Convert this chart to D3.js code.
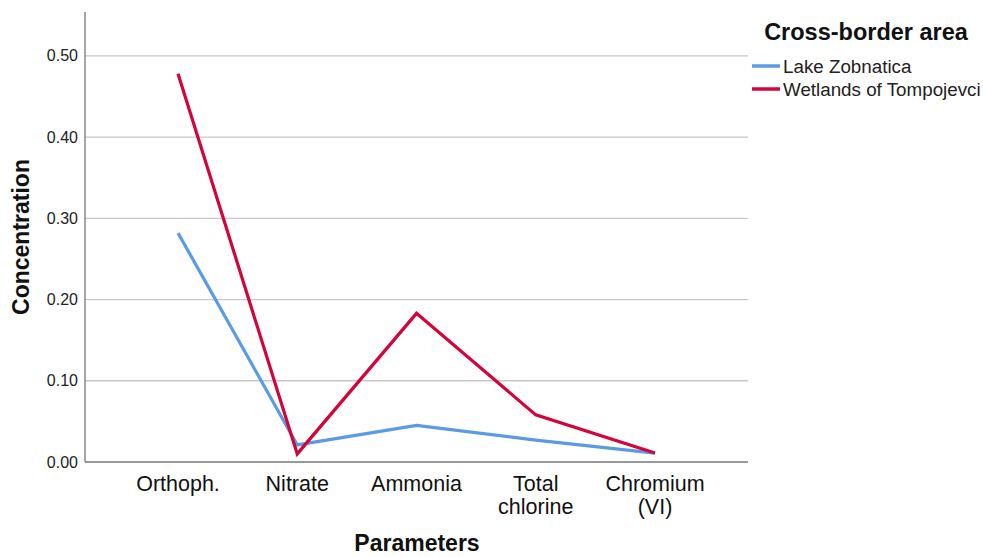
<!DOCTYPE html>
<html><head><meta charset="utf-8">
<script src="https://cdn.jsdelivr.net/npm/d3@7"></script>
<style>body{margin:0;background:#fff;font-family:"Liberation Sans",Arial,sans-serif}</style>
</head><body><svg id="c" width="983" height="557" font-family="Liberation Sans, Arial, sans-serif"></svg>
<script>
const categories = [["Orthoph."],["Nitrate"],["Ammonia"],["Total","chlorine"],["Chromium","(VI)"]];
const seriesNames = ["Lake Zobnatica","Wetlands of Tompojevci"];
const lakeZobnatica = [0.282, 0.021, 0.045, 0.027, 0.011];
const wetlandsTompojevci = [0.478, 0.010, 0.183, 0.058, 0.011];
const yTicks = [0, 0.1, 0.2, 0.3, 0.4, 0.5];
const colors = ["#5b9be6", "#d4043a"];

const svg = d3.select("#c");
const L = 85, R = 748, T = 12, B = 462;
const x = d3.scalePoint().domain(categories.map(d=>d.join(" "))).range([L,R]).padding(0.78);
const y = d3.scaleLinear().domain([0,0.554]).range([B,T]);

// gridlines
svg.append("g").selectAll("line").data(yTicks.filter(d=>d>0)).join("line")
  .attr("x1",L).attr("x2",R).attr("y1",d=>y(d)).attr("y2",d=>y(d))
  .attr("stroke","#c8c8c8").attr("stroke-width",1.3);

// y axis
const ya = svg.append("g").attr("transform",`translate(${L},0)`)
  .call(d3.axisLeft(y).tickValues(yTicks).tickFormat(d3.format(".2f")).tickSize(0).tickPadding(7));
ya.attr("font-size",null).attr("font-family",null);
ya.select(".domain").remove();
ya.selectAll("text").style("font-size","16px").attr("fill","#222");
svg.append("line").attr("x1",L).attr("x2",L).attr("y1",T).attr("y2",B).attr("stroke","#777").attr("stroke-width",1.3);

// x axis
svg.append("line").attr("x1",L).attr("x2",R).attr("y1",B).attr("y2",B).attr("stroke","#777").attr("stroke-width",1.3);
const xl = svg.append("g").selectAll("text").data(categories).join("text")
  .attr("x",d=>x(d.join(" "))).attr("y",491).attr("text-anchor","middle")
  .style("font-size","21.5px").attr("fill","#111");
xl.selectAll("tspan").data(d=>d).join("tspan")
  .attr("x",function(){return d3.select(this.parentNode).attr("x");})
  .attr("dy",(d,i)=>i===0?0:23).text(d=>d);

// lines
const line = d3.line().x((d,i)=>x(categories[i].join(" "))).y(d=>y(d));
[lakeZobnatica, wetlandsTompojevci].forEach((s,k)=>{
  svg.append("path").datum(s).attr("d",line).attr("fill","none")
    .attr("stroke",colors[k]).attr("stroke-width",3.2).attr("stroke-linejoin","miter");
});

// axis titles
svg.append("text").attr("x",417).attr("y",551).attr("text-anchor","middle")
  .style("font-size","23px").attr("font-weight","bold").attr("fill","#111").text("Parameters");
svg.append("text").attr("transform","translate(29,237) rotate(-90)").attr("text-anchor","middle")
  .style("font-size","23px").attr("font-weight","bold").attr("fill","#111").text("Concentration");

// legend
svg.append("text").attr("x",866).attr("y",40).attr("text-anchor","middle")
  .style("font-size","23.5px").attr("font-weight","bold").attr("fill","#111").text("Cross-border area");
const lg = svg.append("g").selectAll("g").data(seriesNames).join("g")
  .attr("transform",(d,i)=>`translate(752,${66+i*23})`);
lg.append("line").attr("x1",0).attr("x2",28).attr("stroke",(d,i)=>colors[i]).attr("stroke-width",3.5);
lg.append("text").attr("x",31).attr("y",6.5).style("font-size","18.8px").attr("fill","#222").text(d=>d);
</script></body></html>
